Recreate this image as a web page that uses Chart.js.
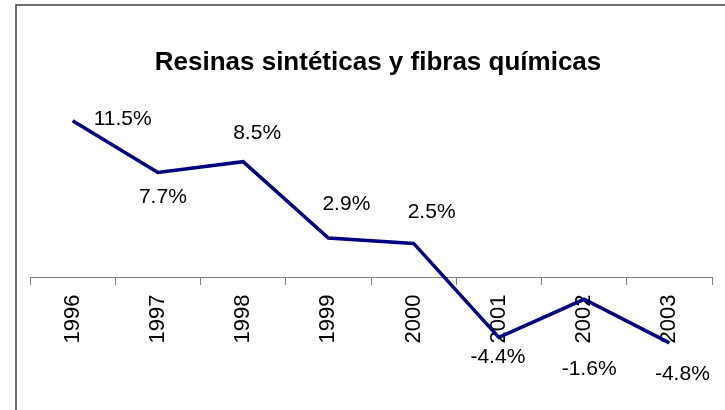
<!DOCTYPE html>
<html>
<head>
<meta charset="utf-8">
<script src="https://cdn.jsdelivr.net/npm/chart.js@4.4.1/dist/chart.umd.min.js"></script>
<style>
  html, body { margin:0; padding:0; background:#fff; }
  #wrap { width:725px; height:410px; position:relative; }
</style>
</head>
<body>
<div id="wrap"><canvas id="chart"></canvas></div>
<script>
// datos del gráfico
const years = ['1996','1997','1998','1999','2000','2001','2002','2003'];
const growth = [11.5, 7.7, 8.5, 2.9, 2.5, -4.4, -1.6, -4.8];
const chartTitle = 'Resinas sintéticas y fibras químicas';
// desplazamiento de cada etiqueta respecto a su punto (px)
const labelDx = [50, 5, 14, 18, 18, -1, 5, 13];
const labelDy = [-2, 25, -28, -34, -31, 20, 70, 31];

const frame = {
  id: 'frame',
  beforeDraw(chart) {
    const ctx = chart.ctx;
    ctx.save();
    ctx.fillStyle = '#fff';
    ctx.fillRect(0, 0, chart.width, chart.height);
    ctx.strokeStyle = '#404040';
    ctx.lineWidth = 1.5;
    ctx.beginPath();
    ctx.moveTo(16, chart.height);
    ctx.lineTo(16, 5);
    ctx.lineTo(chart.width, 5);
    ctx.stroke();
    ctx.restore();
  }
};

const titlePlugin = {
  id: 'titleText',
  afterDraw(chart) {
    const ctx = chart.ctx;
    ctx.save();
    ctx.font = 'bold 26px "Liberation Sans", Arial, sans-serif';
    ctx.fillStyle = '#000';
    ctx.textAlign = 'center';
    ctx.textBaseline = 'alphabetic';
    ctx.fillText(chartTitle, 378, 70);
    ctx.restore();
  }
};

const pointLabels = {
  id: 'pointLabels',
  afterDatasetsDraw(chart) {
    const ctx = chart.ctx;
    const meta = chart.getDatasetMeta(0);
    ctx.save();
    ctx.font = '21px "Liberation Sans", Arial, sans-serif';
    ctx.fillStyle = '#000';
    ctx.textAlign = 'center';
    ctx.textBaseline = 'middle';
    meta.data.forEach((pt, i) => {
      ctx.fillText(growth[i].toFixed(1) + '%', pt.x + labelDx[i], pt.y + labelDy[i]);
    });
    ctx.restore();
  }
};

new Chart(document.getElementById('chart'), {
  type: 'line',
  data: {
    labels: years,
    datasets: [{
      data: growth,
      borderColor: '#000080',
      borderWidth: 3.5,
      pointRadius: 0,
      tension: 0,
      fill: false
    }]
  },
  options: {
    responsive: true,
    maintainAspectRatio: false,
    animation: false,
    layout: { padding: { left: 30, right: 13, top: 86.7, bottom: 23.5 } },
    plugins: { legend: { display: false }, tooltip: { enabled: false }, title: { display: false } },
    scales: {
      x: {
        position: { y: 0 },
        offset: true,
        afterFit: s => { s.height = 0; },
        grid: { offset: true, drawOnChartArea: false, drawTicks: true, tickLength: 7, color: '#808080' },
        border: { display: true, color: '#808080', width: 1 },
        ticks: {
          autoSkip: false, minRotation: 90, maxRotation: 90, padding: 10,
          color: '#000', font: { family: '"Liberation Sans", Arial, sans-serif', size: 22 }
        }
      },
      y: {
        display: false,
        min: -8,
        max: 14
      }
    }
  },
  plugins: [frame, titlePlugin, pointLabels]
});
</script>
</body>
</html>
